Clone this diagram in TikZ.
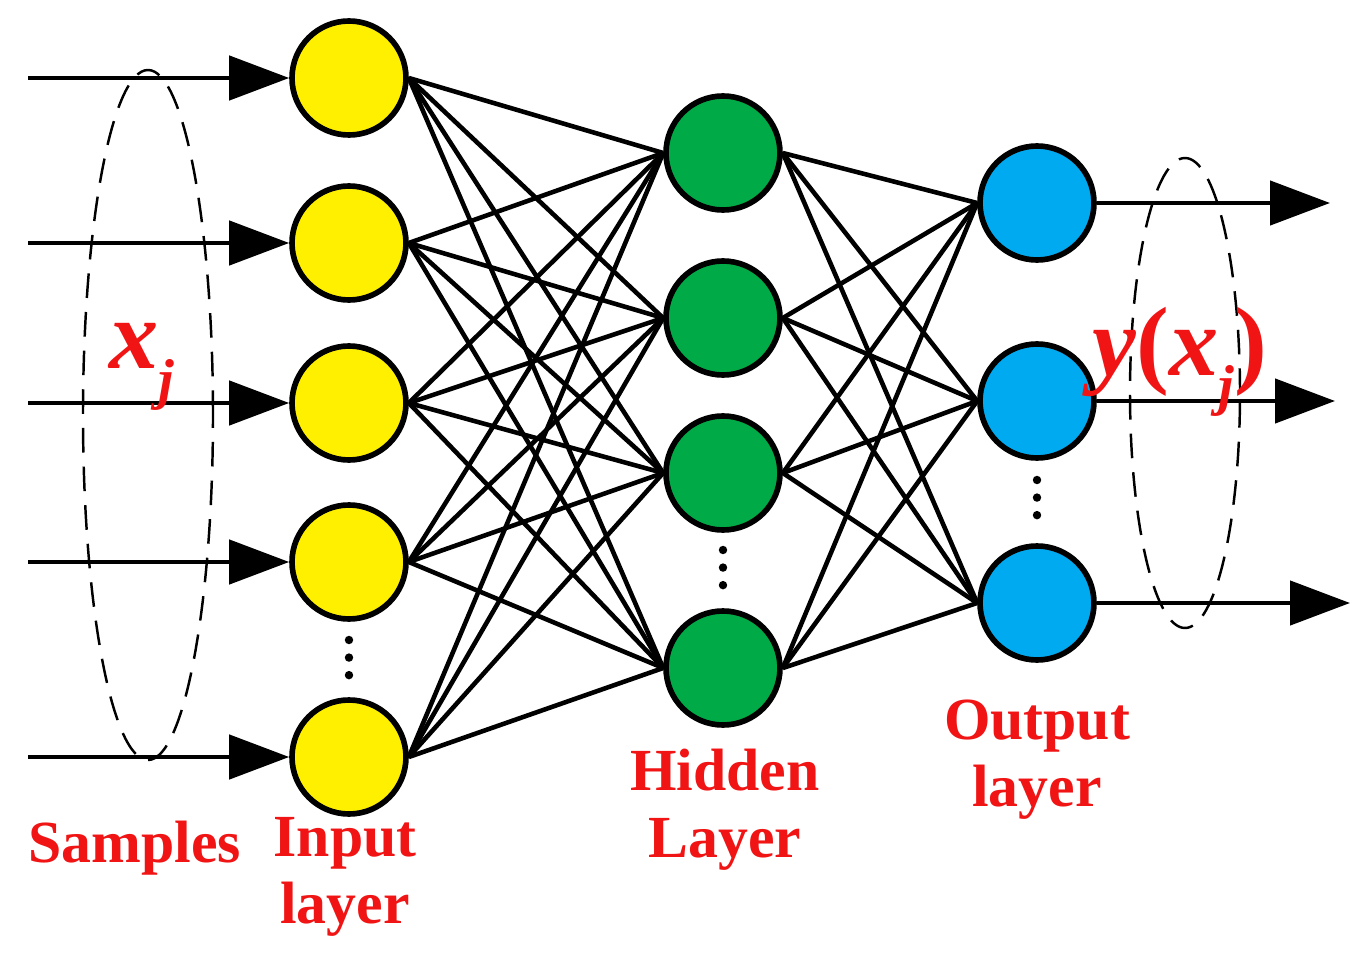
\documentclass[tikz,border=0pt]{standalone}
\usepackage{fontspec}
\setmainfont{Liberation Serif}
\usepackage{tikz}
\usetikzlibrary{positioning, arrows.meta}
\definecolor{nnYellow}{RGB}{255, 240, 0}
\definecolor{nnGreen}{RGB}{0, 170, 70}
\definecolor{nnBlue}{RGB}{0, 170, 240}
\definecolor{nnRed}{RGB}{240, 20, 20}
\newcommand{\subj}{\raisebox{-0.3em}{\fontsize{16}{16}\selectfont\textit{j}}}
\tikzset{
    neuron/.style={
        circle,
        draw=black,
        line width=1.6pt,
        minimum size=1.14cm,
        inner sep=0pt
    },
    link/.style={
        line width=1.3pt
    },
    signal/.style={
        -{Triangle[length=6mm, width=4.4mm]},
        line width=1.3pt
    },
    caption/.style={
        font=\fontsize{17}{19}\selectfont\bfseries,
        text=nnRed,
        align=center
    },
    vdots/.style={
        line width=2.4pt,
        line cap=round,
        dash pattern=on 0pt off 5pt
    },
    group/.style={
        line width=0.7pt,
        dash pattern=on 7pt off 4pt
    }
}
\begin{document}
\begin{tikzpicture}
    \useasboundingbox (0,0) rectangle (13.71,9.72);

    % Input layer
    \foreach \i/\y in {1/8.94, 2/7.29, 3/5.69, 4/4.10, 5/2.15}
        \node[neuron, fill=nnYellow] (in\i) at (3.49,\y) {};

    % Hidden layer
    \foreach \i/\y in {1/8.19, 2/6.54, 3/4.99, 4/3.04}
        \node[neuron, fill=nnGreen] (hid\i) at (7.23,\y) {};

    % Output layer
    \foreach \i/\y in {1/7.69, 2/5.71, 3/3.69}
        \node[neuron, fill=nnBlue] (out\i) at (10.37,\y) {};

    % Connections
    \foreach \i in {1,...,5}
        \foreach \j in {1,...,4}
            \draw[link] (in\i.east) -- (hid\j.west);
    \foreach \j in {1,...,4}
        \foreach \k in {1,...,3}
            \draw[link] (hid\j.east) -- (out\k.west);

    % Samples in
    \foreach \i/\y in {1/8.94, 2/7.29, 3/5.69, 4/4.10, 5/2.15} {
        \coordinate (src\i) at (0.28,\y);
        \draw[signal] (src\i) -- (in\i);
    }

    % Outputs
    \foreach \k/\x in {1/13.30, 2/13.35, 3/13.50} {
        \coordinate (dst\k) at (\x,0 |- out\k);
        \draw[signal] (out\k) -- (dst\k);
    }

    % Dots
    \draw[vdots] (3.49,3.32) -- (3.49,2.85);
    \draw[vdots] (7.23,4.22) -- (7.23,3.72);
    \draw[vdots] (10.37,4.92) -- (10.37,4.42);

    % Dashed groups
    \draw[group] (1.48,5.57) ellipse (0.65cm and 3.45cm);
    \draw[group] (11.85,5.79) ellipse (0.55cm and 2.35cm);

    % Labels
    \node[text=nnRed, font=\fontsize{28}{30}\selectfont\bfseries] (xj) at (1.42,6.05) {\textit{x}\subj};
    \node[text=nnRed, font=\fontsize{28}{30}\selectfont\bfseries] (yxj) at (11.80,6.10) {\textit{y}(\textit{x}\subj)};
    \node[caption] (samples) at (1.35,1.24) {Samples};
    \node[caption] (inlabel) at (3.45,0.95) {Input\\layer};
    \node[caption] (hidlabel) at (7.25,1.62) {Hidden\\Layer};
    \node[caption] (outlabel) at (10.37,2.12) {Output\\layer};
\end{tikzpicture}
\end{document}
